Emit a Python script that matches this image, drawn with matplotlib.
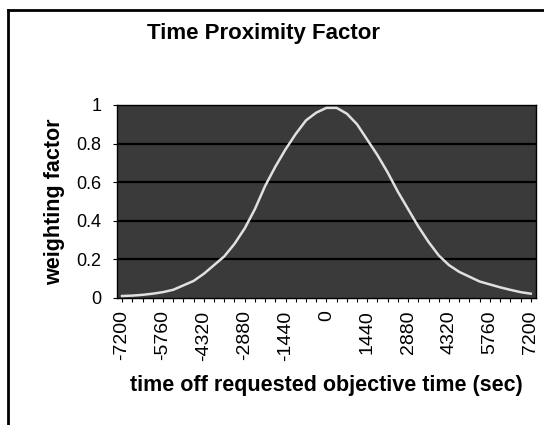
import numpy as np
import matplotlib
matplotlib.use("Agg")
import matplotlib.pyplot as plt
from matplotlib.ticker import MultipleLocator

plt.rcParams['font.family'] = ['Liberation Sans', 'DejaVu Sans']

# time offset (sec), one category every 360 s
t_off = np.arange(-7200, 7201, 360)
weight = [0.010, 0.012, 0.016, 0.022, 0.030, 0.042, 0.065, 0.088, 0.125, 0.170,
          0.215, 0.280, 0.360, 0.460, 0.580, 0.680, 0.770, 0.850, 0.920, 0.960,
          0.985, 0.985, 0.955, 0.900, 0.820, 0.740, 0.650, 0.550, 0.460, 0.370,
          0.290, 0.220, 0.170, 0.135, 0.110, 0.085, 0.070, 0.055, 0.042, 0.030,
          0.022]
x_labels = np.arange(-7200, 7201, 1440)
y_ticks = [0, 0.2, 0.4, 0.6, 0.8, 1]

fig = plt.figure(figsize=(5.44, 4.25), dpi=100)
ax = fig.add_axes([0.215, 0.299, 0.770, 0.454])

ax.set_facecolor('#3a3a3a')
for y in y_ticks[1:-1]:
    ax.axhline(y, color='black', lw=1.6, zorder=1)
ax.plot(t_off, weight, color='#e0e0e0', lw=1.8, zorder=3)

ax.set_xlim(-7380, 7380)
ax.set_ylim(0, 1)
ax.set_xticks(x_labels)
ax.set_xticklabels([str(v) for v in x_labels], rotation=90, fontsize=14)
ax.xaxis.set_minor_locator(MultipleLocator(360))
ax.set_yticks(y_ticks)
ax.set_yticklabels(['0', '0.2', '0.4', '0.6', '0.8', '1'], fontsize=13)
ax.tick_params(axis='both', which='both', direction='out', length=3, width=0.8, color='black')
ax.tick_params(axis='y', pad=8)
ax.tick_params(axis='x', pad=6)
for s in ax.spines.values():
    s.set_color('black')
    s.set_linewidth(1)

ax.set_xlabel('time off requested objective time (sec)', fontsize=15.5,
              fontweight='bold', labelpad=10)
ax.set_ylabel('weighting factor', fontsize=15.5, fontweight='bold', labelpad=8)
fig.text(0.484, 0.922, 'Time Proximity Factor', ha='center', va='center',
         fontsize=16, fontweight='bold')

# chart area border (cropped at right and bottom in the scan)
fig.add_artist(plt.Line2D([8/544, 8/544], [0, 1 - 10/425], color='black', lw=2,
                          transform=fig.transFigure))
fig.add_artist(plt.Line2D([8/544, 1], [1 - 10/425, 1 - 10/425], color='black', lw=2,
                          transform=fig.transFigure))

fig.savefig('out.png', dpi=100, facecolor='white')
